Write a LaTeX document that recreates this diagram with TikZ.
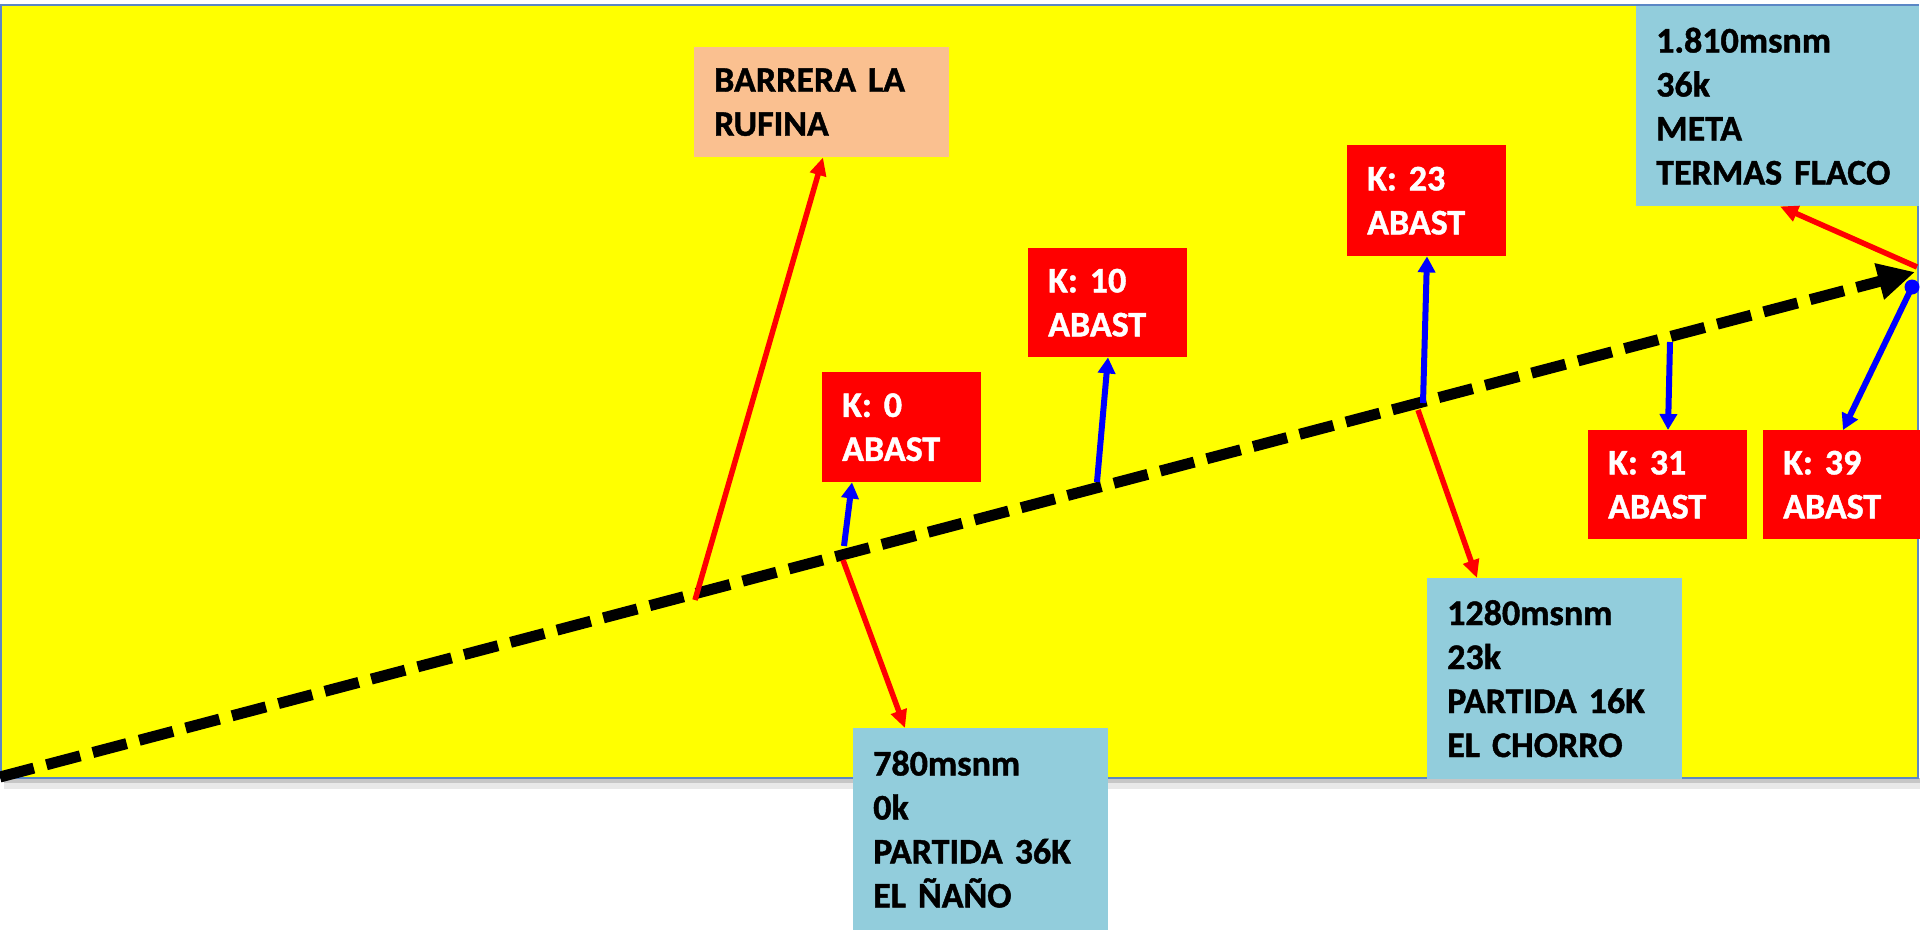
\documentclass[tikz,border=0pt]{standalone}
\usepackage{fontspec}
\setmainfont{Carlito}[BoldFeatures={FakeBold=1.2}]
\frenchspacing
\usetikzlibrary{arrows.meta,calc}
\definecolor{frameyellow}{HTML}{FFFF00}
\definecolor{boxblue}{HTML}{92CDDC}
\definecolor{boxpeach}{HTML}{FAC090}
\definecolor{frameline}{HTML}{5B87C5}
\definecolor{arrblue}{HTML}{0000FF}
\definecolor{arrred}{HTML}{FF0000}
\begin{document}
\begin{tikzpicture}[x=1pt,y=-1pt,
  box/.style={anchor=north west, inner xsep=20pt, inner ysep=0pt, align=left,
    font=\frenchspacing\bfseries\fontsize{36}{44}\selectfont},
  redbox/.style={box, fill=arrred, text=white},
  bluebox/.style={box, fill=boxblue, text=black},
  peachbox/.style={box, fill=boxpeach, text=black},
  blueline/.style={draw=arrblue, line width=6pt, -{Triangle[length=16pt,width=17pt]}},
  redline/.style={draw=arrred, line width=5.5pt, -{Triangle[length=18pt,width=16pt]}},
  route/.style={draw=black, line width=11pt, dash pattern=on 35pt off 13pt,
    -{Triangle[length=37pt,width=35pt]}}
]
\useasboundingbox (0,0) rectangle (1920,930);
% frame with shadow
\fill[gray!45] (4,778) rectangle (1920,783);
\fill[gray!18] (4,783) rectangle (1920,789);
\filldraw[fill=frameyellow, draw=frameline, line width=1.5pt] (1,5) rectangle (1918,778);

% boxes
\node[peachbox, minimum width=255pt, minimum height=110pt, text width=215pt] (barrera) at (694,47) {BARRERA LA\\RUFINA};
\node[redbox, minimum width=159pt, minimum height=110pt, text width=119pt] (k0) at (822,372) {K: 0\\ABAST};
\node[redbox, minimum width=159pt, minimum height=109pt, text width=119pt] (k10) at (1028,248) {K: 10\\ABAST};
\node[redbox, minimum width=159pt, minimum height=111pt, text width=119pt] (k23) at (1347,145) {K: 23\\ABAST};
\node[redbox, minimum width=159pt, minimum height=109pt, text width=119pt] (k31) at (1588,430) {K: 31\\ABAST};
\node[redbox, minimum width=157pt, minimum height=109pt, text width=117pt] (k39) at (1763,430) {K: 39\\ABAST};
\node[bluebox, minimum width=255pt, minimum height=202pt, text width=215pt] (b780) at (853,728) {780msnm\\0k\\PARTIDA 36K\\EL ÑAÑO};
\node[bluebox, minimum width=255pt, minimum height=201pt, text width=215pt] (b1280) at (1427,578) {1280msnm\\23k\\PARTIDA 16K\\EL CHORRO};
\node[bluebox, minimum width=283pt, minimum height=200pt, text width=243pt] (b1810) at (1636,6) {1.810msnm\\36k\\META\\TERMAS FLACO};

% route line
\coordinate (ls) at (0,777);
\coordinate (le) at (1915,272);
\draw[route] (ls) -- (le);

% points on the route
\coordinate (pbar) at (695,600);
\coordinate (pk0) at (844,546);
\coordinate (p780) at (843,560);
\coordinate (pk10) at (1097,482);
\coordinate (pk23) at (1423,403);
\coordinate (p1280) at (1418,410);
\coordinate (pk31) at (1670,342);
\coordinate (pk39) at (1912,287);
\coordinate (p1810) at (1917,267);

% connectors
\draw[redline] (pbar) -- ($(barrera.south west)+(129,0)$);
\draw[blueline] (pk0) -- ($(k0.south west)+(30,0)$);
\draw[redline] (p780) -- ($(b780.north west)+(52,0)$);
\draw[blueline] (pk10) -- ($(k10.south west)+(80,0)$);
\draw[blueline] (pk23) -- ($(k23.south west)+(80,0)$);
\draw[redline] (p1280) -- ($(b1280.north west)+(50,0)$);
\draw[blueline] (pk31) -- ($(k31.north west)+(80,0)$);
\draw[blueline] (pk39) -- ($(k39.north west)+(80,0)$);
\draw[redline] (p1810) -- ($(b1810.south west)+(144,0)$);
\fill[arrblue] (pk39) circle (7.5pt);
\end{tikzpicture}
\end{document}
